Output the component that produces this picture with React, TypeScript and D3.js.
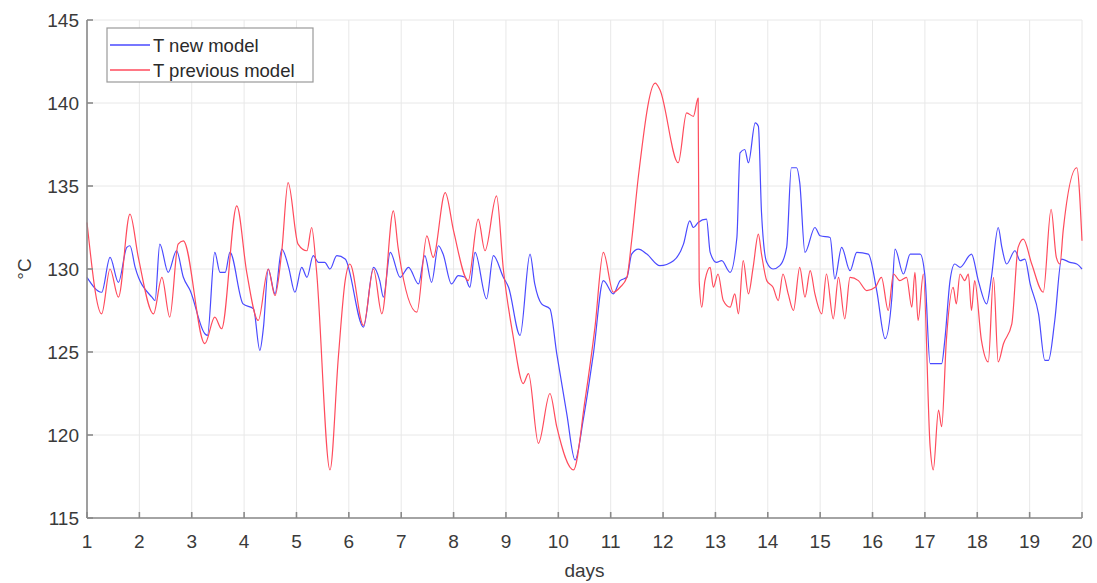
import * as d3 from 'd3'

// series: day positions and temperatures (°C)
const newDays = [
  1.0, 1.28, 1.44, 1.6, 1.76, 1.82, 1.92, 2.24, 2.3, 2.39, 2.55, 2.71, 2.84, 2.97, 3.25, 3.3,
  3.44, 3.54, 3.64, 3.73, 3.98, 4.18, 4.3, 4.37, 4.46, 4.59, 4.72, 4.85, 4.97, 5.1, 5.2, 5.32,
  5.42, 5.54, 5.64, 5.77, 5.93, 6.28, 6.47, 6.59, 6.66, 6.79, 6.98, 7.14, 7.33, 7.45, 7.58,
  7.71, 7.8, 7.96, 8.09, 8.22, 8.31, 8.41, 8.63, 8.76, 8.95, 9.05, 9.27, 9.46, 9.55, 9.68,
  9.84, 9.97, 10.16, 10.32, 10.48, 10.67, 10.86, 11.05, 11.18, 11.31, 11.4, 11.53, 11.69,
  11.94, 12.2, 12.39, 12.51, 12.58, 12.67, 12.83, 12.9, 13.02, 13.12, 13.28, 13.41, 13.47,
  13.56, 13.63, 13.76, 13.82, 13.88, 13.98, 14.1, 14.23, 14.36, 14.45, 14.55, 14.61, 14.71,
  14.9, 15.0, 15.19, 15.28, 15.41, 15.57, 15.7, 15.92, 16.08, 16.24, 16.37, 16.43, 16.59,
  16.72, 16.91, 17.0, 17.1, 17.32, 17.38, 17.48, 17.57, 17.67, 17.89, 18.02, 18.18, 18.27,
  18.4, 18.47, 18.56, 18.72, 18.82, 18.91, 19.01, 19.17, 19.29, 19.36, 19.48, 19.61, 19.77,
  19.9, 20.0,
]
const newTemps = [
  129.5, 128.6, 130.7, 129.2, 131.3, 131.4, 130.1, 128.3, 128.1, 131.5, 129.8, 131.1, 129.5,
  128.7, 126.1, 126.0, 131.0, 129.8, 129.8, 131.0, 127.9, 127.6, 125.1, 126.5, 130.0, 128.5,
  131.2, 130.1, 128.6, 130.1, 129.5, 130.8, 130.4, 130.4, 130.0, 130.8, 130.6, 126.5, 130.1,
  129.3, 128.3, 131.0, 129.5, 130.1, 129.1, 130.8, 129.2, 131.4, 130.9, 129.1, 129.6, 129.5,
  128.9, 131.0, 128.2, 130.8, 129.5, 128.9, 126.0, 130.9, 129.1, 127.9, 127.6, 124.9, 121.3,
  118.5, 121.0, 124.9, 129.3, 128.5, 129.3, 129.5, 130.9, 131.2, 130.9, 130.2, 130.5, 131.5,
  132.9, 132.5, 132.8, 133.0, 131.0, 130.4, 130.5, 129.8, 131.9, 137.0, 137.2, 136.4, 138.8,
  138.6, 133.4, 130.4, 130.0, 130.2, 131.3, 136.1, 136.1, 135.2, 131.0, 132.5, 132.0, 131.9,
  129.4, 131.3, 129.9, 131.0, 130.9, 128.7, 125.8, 128.3, 131.2, 129.7, 130.9, 130.9, 129.6,
  124.3, 124.3, 125.7, 129.3, 130.3, 130.1, 130.9, 129.3, 127.9, 129.5, 132.5, 131.3, 130.3,
  131.1, 130.5, 130.6, 129.1, 127.3, 124.5, 124.5, 126.9, 130.6, 130.4, 130.3, 130.0,
]

const prevDays = [
  1.0, 1.28, 1.44, 1.6, 1.82, 1.98, 2.27, 2.43, 2.58, 2.74, 2.84, 3.25, 3.44, 3.57, 3.86,
  4.05, 4.27, 4.46, 4.59, 4.72, 4.84, 5.03, 5.2, 5.29, 5.38, 5.64, 5.8, 5.93, 6.02, 6.28,
  6.47, 6.63, 6.85, 6.94, 7.3, 7.49, 7.61, 7.84, 8.0, 8.28, 8.47, 8.6, 8.82, 8.95, 9.14,
  9.33, 9.43, 9.62, 9.84, 9.97, 10.29, 10.51, 10.7, 10.86, 11.05, 11.18, 11.31, 11.4, 11.53,
  11.85, 11.94, 12.29, 12.45, 12.58, 12.67, 12.69, 12.74, 12.8, 12.9, 12.96, 13.05, 13.15,
  13.28, 13.37, 13.44, 13.53, 13.63, 13.72, 13.82, 13.88, 13.98, 14.1, 14.2, 14.29, 14.39,
  14.49, 14.61, 14.71, 14.81, 14.9, 15.03, 15.12, 15.25, 15.35, 15.47, 15.57, 15.73, 15.89,
  16.05, 16.17, 16.3, 16.4, 16.52, 16.65, 16.75, 16.81, 16.87, 16.97, 17.1, 17.16, 17.26,
  17.32, 17.41, 17.54, 17.6, 17.67, 17.76, 17.83, 17.89, 17.95, 18.08, 18.21, 18.31, 18.4,
  18.5, 18.66, 18.78, 18.88, 19.04, 19.26, 19.41, 19.51, 19.58, 19.64, 19.9, 20.0,
]
const prevTemps = [
  132.8, 127.3, 130.0, 128.3, 133.3, 130.7, 127.3, 129.5, 127.1, 131.5, 131.7, 125.5, 127.1,
  126.4, 133.8, 129.8, 126.9, 130.0, 128.4, 131.1, 135.2, 131.5, 131.1, 132.5, 130.0, 117.9,
  124.7, 129.3, 130.3, 126.6, 130.0, 127.3, 133.5, 131.3, 127.4, 132.0, 130.7, 134.6, 132.3,
  129.3, 133.0, 131.1, 134.4, 130.0, 125.9, 123.1, 123.7, 119.5, 122.5, 120.5, 117.9, 122.1,
  126.5, 131.0, 128.6, 128.9, 129.5, 131.7, 135.6, 141.2, 140.8, 136.4, 139.4, 139.2, 140.3,
  129.3, 127.7, 129.3, 130.1, 128.9, 129.7, 128.1, 127.7, 128.5, 127.3, 130.5, 128.5, 130.1,
  132.1, 130.9, 129.3, 128.9, 128.1, 129.7, 128.5, 127.5, 130.1, 128.3, 129.9, 128.5, 127.3,
  129.7, 127.0, 129.5, 127.0, 129.5, 129.3, 128.7, 128.9, 129.5, 127.5, 129.7, 129.3, 129.5,
  127.7, 129.8, 126.9, 129.7, 119.3, 117.9, 121.5, 120.5, 125.7, 128.9, 127.9, 129.7, 129.3,
  129.7, 127.5, 129.3, 125.7, 124.4, 129.5, 124.4, 125.5, 126.7, 131.3, 131.8, 130.3, 128.6,
  133.6, 130.7, 130.3, 132.3, 136.1, 131.7,
]

const xTicks = d3.range(1, 21)
const yTicks = [115, 120, 125, 130, 135, 140, 145]
const seriesNames = ['T new model', 'T previous model']
const seriesColors = ['#4a4aff', '#ff4b5c']

const W = 1097
const H = 583
const margin = { top: 20, right: 15, bottom: 65, left: 87 }

export default function App() {
  const x = d3.scaleLinear().domain([1, 20]).range([margin.left, W - margin.right])
  const y = d3.scaleLinear().domain([115, 145]).range([H - margin.bottom, margin.top])

  const line = d3
    .line<[number, number]>()
    .x((d) => x(d[0]))
    .y((d) => y(d[1]))
    .curve(d3.curveMonotoneX)

  const series = [
    d3.zip(newDays, newTemps) as [number, number][],
    d3.zip(prevDays, prevTemps) as [number, number][],
  ]

  const font = 'Arial, "Liberation Sans", Helvetica, sans-serif'
  const x0 = x.range()[0]
  const x1 = x.range()[1]
  const y0 = y.range()[0]
  const y1 = y.range()[1]

  return (
    <svg
      width={W}
      height={H}
      style={{ position: 'absolute', left: 0, top: 0, background: '#fff' }}
      fontFamily={font}
    >
      {/* grid */}
      <g stroke="#e8e8e8" strokeWidth={1}>
        {xTicks.map((t) => (
          <line key={'gx' + t} x1={x(t)} x2={x(t)} y1={y0} y2={y1} />
        ))}
        {yTicks.map((t) => (
          <line key={'gy' + t} x1={x0} x2={x1} y1={y(t)} y2={y(t)} />
        ))}
      </g>

      {/* data */}
      {series.map((s, i) => (
        <path
          key={seriesNames[i]}
          d={line(s) ?? ''}
          fill="none"
          stroke={seriesColors[i]}
          strokeWidth={1.2}
          strokeLinejoin="round"
        />
      ))}

      {/* axes */}
      <g stroke="#8a8a8a" strokeWidth={1.6}>
        <line x1={x0} x2={x0} y1={y0} y2={y1} />
        <line x1={x0} x2={x1} y1={y0} y2={y0} />
        {xTicks.map((t) => (
          <line key={'tx' + t} x1={x(t)} x2={x(t)} y1={y0} y2={y0 - 6} />
        ))}
        {yTicks.map((t) => (
          <line key={'ty' + t} x1={x0} x2={x0 + 6} y1={y(t)} y2={y(t)} />
        ))}
      </g>

      <g fill="#3a3a3a" fontSize={19}>
        {xTicks.map((t) => (
          <text key={'lx' + t} x={x(t)} y={y0 + 30} textAnchor="middle">
            {t}
          </text>
        ))}
        {yTicks.map((t) => (
          <text key={'ly' + t} x={x0 - 8} y={y(t) + 7} textAnchor="end">
            {t}
          </text>
        ))}
        <text x={(x0 + x1) / 2} y={H - 6} textAnchor="middle">
          days
        </text>
        <text transform={`translate(31,${(y0 + y1) / 2}) rotate(-90)`} textAnchor="middle">
          °C
        </text>
      </g>

      {/* legend */}
      <g>
        <rect x={107} y={28} width={206} height={54} fill="#fff" stroke="#9a9a9a" strokeWidth={1.2} />
        {seriesNames.map((n, i) => (
          <g key={n} transform={`translate(110,${45 + i * 25})`}>
            <line x1={0} x2={40} y1={0} y2={0} stroke={seriesColors[i]} strokeWidth={1.4} />
            <text x={43} y={7} fontSize={18.5} fill="#2a2a2a">
              {n}
            </text>
          </g>
        ))}
      </g>
    </svg>
  )
}
